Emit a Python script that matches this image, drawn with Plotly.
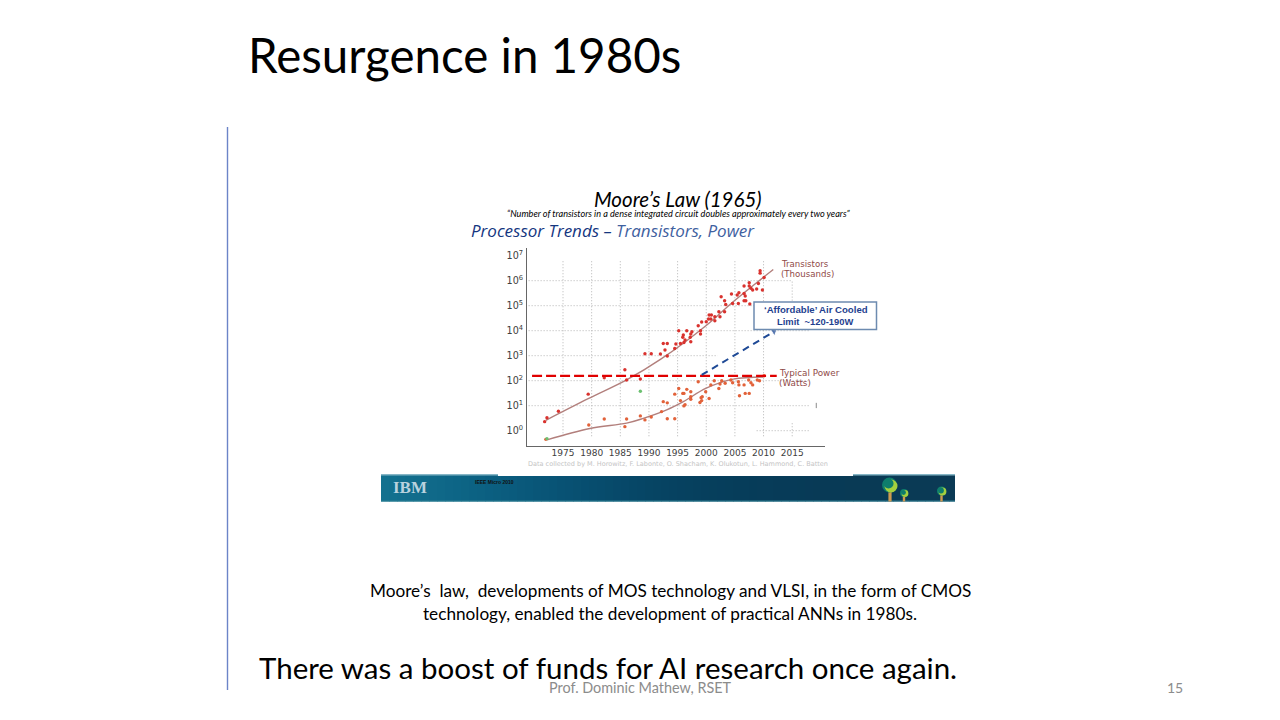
import plotly.graph_objects as go

# ---- data ----
tick_years = [1975, 1980, 1985, 1990, 1995, 2000, 2005, 2010, 2015]
tick_decades = [1, 10, 100, 1000, 10000, 100000, 1000000, 10000000]
tick_decade_labels = ["10<sup>0</sup>", "10<sup>1</sup>", "10<sup>2</sup>", "10<sup>3</sup>",
                      "10<sup>4</sup>", "10<sup>5</sup>", "10<sup>6</sup>", "10<sup>7</sup>"]

trans_years = [1971.8, 1972.2, 1974.2, 1979.4, 1982.2, 1985.8, 1986.1, 1988.5, 1989.3, 1990.4,
               1992.5, 1993.2, 1992.0, 1992.8, 1993.2, 1994.5, 1994.7, 1995.5, 1995.2, 1996.6,
               1997.5, 1996.0, 1996.3, 1996.1, 1997.2, 1997.3, 1997.3, 1995.9, 1998.6, 1999.2,
               2000.0, 1999.0, 1999.0, 2000.5, 2000.9, 2000.4, 2000.8, 2001.5, 2001.5, 2002.2,
               2002.4, 2003.2, 2002.6, 2003.2, 2003.4, 2004.6, 2004.4, 2005.4, 2005.7, 2005.6,
               2006.6, 2006.6, 2006.8, 2006.6, 2006.9, 2007.6, 2007.5, 2007.5, 2007.8, 2008.1,
               2008.8, 2009.1, 2009.8, 2009.4, 2009.4, 2010.1]
trans_values = [2.3, 3.3, 6, 29, 130, 275, 107, 117, 1200, 1200,
                3090, 3090, 1175, 1700, 977, 1950, 2950, 3090, 10000, 10000,
                9120, 6760, 4270, 3390, 5500, 3630, 7410, 5500, 15850, 22400,
                22900, 7410, 10000, 42700, 42700, 29500, 29500, 36300, 25100, 57500,
                36300, 57500, 229000, 158000, 112000, 123000, 295000, 269000, 331000, 123000,
                617000, 309000, 245000, 158000, 158000, 117000, 832000, 617000, 501000, 427000,
                468000, 776000, 427000, 2510000, 2000000, 1350000]

power_years = [1972.0, 1979.5, 1982.2, 1985.8, 1986.1, 1988.5, 1989.3, 1990.4, 1992.5, 1993.2,
               1992.2, 1993.2, 1994.5, 1994.5, 1995.2, 1995.5, 1995.9, 1996.1, 1996.1, 1996.3,
               1996.6, 1997.3, 1997.3, 1997.3, 1999.1, 1999.3, 1998.9, 1999.2, 2000.5, 1999.9,
               1998.6, 2000.8, 2001.4, 2002.2, 2002.4, 2002.7, 2003.3, 2004.3, 2004.6, 2005.6,
               2005.7, 2005.8, 2006.6, 2006.8, 2007.5, 2007.4, 2007.8, 2008.1, 2008.9, 2009.3,
               2010.1]
power_values = [0.45, 1.7, 2.95, 1.45, 2.95, 3.9, 2.7, 3.55, 14.5, 13,
                5.8, 3.0, 3.0, 29, 49, 16, 31, 31, 9.8, 11,
                45, 36, 23, 18, 21, 23, 13.5, 16, 19.5, 36,
                91, 68, 100, 49, 74, 100, 79, 107, 83, 91,
                68, 25, 68, 31, 31, 107, 83, 68, 107, 100,
                158]

green_years = [1972.2, 1988.5]
green_values = [0.48, 38]

trans_trend_years = [1972.0, 1979.4, 1986.1, 1992.0, 2000.1, 2004.7, 2011.7]
trans_trend_values = [2.6, 19, 107, 708, 17000, 145000, 2820000]
power_trend_years = [1972.2, 1979.7, 1986.1, 1989.0, 1993.1, 1996.0, 2000.0, 2004.7, 2010.0]
power_trend_values = [0.43, 1.23, 2.0, 3.1, 6.8, 14.5, 50, 115, 141]

limit_years = [1969.6, 2012.3]
limit_values = [155, 155]
affordable_years = [1999.2, 2011.8]
affordable_values = [170, 9100]

# grid segments as (decade, first year, last year) and (year, low value, high value)
h_grid = [(10, 1969, 2018), (100, 1969, 2018), (1000, 1969, 2002), (10000, 1969, 2018),
          (100000, 1969, 2018), (1000000, 1969, 2015), (1, 2008.8, 2018)]
v_grid = [(y, 0.6, 7000000) for y in tick_years[:-1]] + [(2015, 160000, 1000000), (2015, 0.6, 2)]
smudge_years = [2019.2, 2019.2]
smudge_values = [8, 13]

banner_keys = ["#13718f", "#106a8a", "#0c6283", "#0a5a7c", "#085274", "#074b6c", "#064564",
               "#06405e", "#063d5a", "#073b58", "#083a56", "#093a55", "#0a3a55", "#0b3a55"]

PX_W, PX_H = 1280, 720
AX_L, AX_R, AX_T, AX_B = 527, 825, 248, 446
LABEL_FONT = "DejaVu Sans"
SLIDE_FONT = "Lato"


def xp(px):
    return px / PX_W


def yp(py):
    return 1 - py / PX_H


def rect(x0, y0, x1, y1, fill, line=None, width=0, layer="below"):
    return dict(type="rect", xref="paper", yref="paper", x0=xp(x0), x1=xp(x1), y0=yp(y0), y1=yp(y1),
                fillcolor=fill, line=dict(color=line or fill, width=width), layer=layer)


def circle(cx, cy, r, fill):
    return dict(type="circle", xref="paper", yref="paper", x0=xp(cx - r), x1=xp(cx + r),
                y0=yp(cy + r), y1=yp(cy - r), fillcolor=fill, line=dict(width=0), layer="above")


def text(px, py, s, size, color="#000000", font=SLIDE_FONT, anchor="left"):
    return dict(x=xp(px), y=yp(py), xref="paper", yref="paper", text=s, showarrow=False,
                xanchor=anchor, yanchor="middle", align=anchor,
                font=dict(family=font, size=size, color=color))


def blend(c0, c1, t):
    a = [int(c0[i:i + 2], 16) for i in (1, 3, 5)]
    b = [int(c1[i:i + 2], 16) for i in (1, 3, 5)]
    return "#%02x%02x%02x" % tuple(round(p + (q - p) * t) for p, q in zip(a, b))


fig = go.Figure()

gx, gy = [], []
for d, y0, y1 in h_grid:
    gx += [y0, y1, None]
    gy += [d, d, None]
for y, v0, v1 in v_grid:
    gx += [y, y, None]
    gy += [v0, v1, None]
fig.add_trace(go.Scatter(x=gx, y=gy, mode="lines", hoverinfo="skip",
                         line=dict(color="#b4b4b4", width=1, dash="1px,2px")))
fig.add_trace(go.Scatter(x=smudge_years, y=smudge_values, mode="lines", hoverinfo="skip",
                         line=dict(color="#8a8a8a", width=1)))

fig.add_trace(go.Scatter(x=trans_trend_years, y=trans_trend_values, mode="lines",
                         line=dict(color="#b27f7c", width=1.4, shape="spline")))
fig.add_trace(go.Scatter(x=power_trend_years, y=power_trend_values, mode="lines",
                         line=dict(color="#b27f7c", width=1.4, shape="spline")))
fig.add_trace(go.Scatter(x=trans_years, y=trans_values, mode="markers",
                         marker=dict(color="#d9322e", size=3.4)))
fig.add_trace(go.Scatter(x=power_years, y=power_values, mode="markers",
                         marker=dict(color="#e2623a", size=3.4)))
fig.add_trace(go.Scatter(x=green_years, y=green_values, mode="markers",
                         marker=dict(color="#6cc070", size=3.4)))
fig.add_trace(go.Scatter(x=limit_years, y=limit_values, mode="lines",
                         line=dict(color="#e00000", width=2.2, dash="10px,4px")))
fig.add_trace(go.Scatter(x=affordable_years, y=affordable_values, mode="lines+markers",
                         line=dict(color="#1f4a96", width=2, dash="7px,5px"),
                         marker=dict(symbol="triangle-up", size=[0, 7], color="#1f4a96",
                                     angleref="previous")))

shapes = [
    dict(type="line", xref="paper", yref="paper", x0=xp(227.5), x1=xp(227.5), y0=yp(127), y1=yp(690),
         line=dict(color="#6c84c8", width=1.4)),
]
# banner strips
STRIP = 8
x = 381
while x < 955:
    pos = (x - 381) / (955 - 381) * (len(banner_keys) - 1)
    k = min(int(pos), len(banner_keys) - 2)
    shapes.append(rect(x, 474, min(x + STRIP + 0.5, 955), 501.5, blend(banner_keys[k], banner_keys[k + 1], pos - k)))
    x += STRIP
shapes.append(rect(381, 474, 955, 475.4, "#86b6c6"))
shapes.append(rect(381, 500.5, 955, 501.5, "#2c7f92"))
shapes.append(rect(498, 472, 853, 476, "#ffffff", layer="above"))
# trees
for cx, y0, wid in [(890, 491, 1.6), (904, 496, 1.2), (941.5, 495, 1.2)]:
    shapes.append(rect(cx - wid, y0, cx + wid, 501.5, "#d09a50", layer="above"))
shapes += [circle(889.5, 485, 7.5, "#0e7d6c"), circle(891, 486, 6.5, "#a4cf3e"), circle(888.5, 483.5, 5, "#0e7d6c"),
           circle(904, 493, 4, "#0e7d6c"), circle(905, 493.5, 3.4, "#a4cf3e"), circle(903.5, 492.5, 2.4, "#0e7d6c"),
           circle(941.5, 491, 4.6, "#0e7d6c"), circle(942.5, 491.5, 3.9, "#a4cf3e"), circle(941, 490.5, 2.9, "#0e7d6c")]
# callout
shapes.append(rect(754, 302, 876.5, 329.5, "#ffffff", line="#6d8bb0", width=1.5, layer="above"))

annotations = [
    text(246, 55, "Resurgence in 1980s", 47.5),
    text(678, 199, "<i>Moore’s Law (1965)</i>", 20.5, anchor="center"),
    text(679, 213, "<i>“Number of transistors in a dense integrated circuit doubles approximately every two years”</i>",
         9.15, anchor="center"),
    text(469, 231, "<i><span style='color:#14367f'>Processor Trends –</span> "
                   "<span style='color:#3f619f'>Transistors, Power</span></i>", 17, font="Open Sans"),
    text(779, 264, "Transistors", 8.6, "#8f4a48", LABEL_FONT),
    text(779, 273.5, "(Thousands)", 8.6, "#8f4a48", LABEL_FONT),
    text(777, 373, "Typical Power", 8.8, "#8f4a48", LABEL_FONT),
    text(777, 383, "(Watts)", 8.8, "#8f4a48", LABEL_FONT),
    text(816, 309.5, "<b>‘Affordable’ Air Cooled</b>", 9.6, "#1f3f8f", "Liberation Sans", "center"),
    text(815, 321.5, "<b>Limit  ~120-190W</b>", 9.4, "#1f3f8f", "Liberation Sans", "center"),
    text(526, 464, "Data collected by M. Horowitz, F. Labonte, O. Shacham, K. Olukotun, L. Hammond, C. Batten",
         6.5, "#c4c4c4", LABEL_FONT),
    text(391, 487, "<b>IBM</b>", 17, "#b9d2de", "Liberation Serif"),
    text(473, 482, "<b>IEEE Micro 2010</b>", 5, "#111111", "Liberation Sans"),
    text(670, 590, "Moore’s  law,  developments of MOS technology and VLSI, in the form of CMOS", 17.2, anchor="center"),
    text(670, 613, "technology, enabled the development of practical ANNs in 1980s.", 17.2, anchor="center"),
    text(257, 667, "There was a boost of funds for AI research once again.", 29.5),
    text(640, 687, "Prof. Dominic Mathew, RSET", 14.4, "#8c8c8c", anchor="center"),
    text(1175, 687, "15", 14, "#8c8c8c", anchor="center"),
]

x_min = 1975 + (AX_L - 563) / 5.73
x_max = 1975 + (AX_R - 563) / 5.73
y_min = (430.7 - AX_B) / 25
y_max = (430.7 - AX_T) / 25

fig.update_layout(
    width=PX_W, height=PX_H, autosize=False, showlegend=False,
    margin=dict(l=0, r=0, t=0, b=0), paper_bgcolor="#ffffff", plot_bgcolor="#ffffff",
    shapes=shapes, annotations=annotations,
    xaxis=dict(domain=[xp(AX_L), xp(AX_R)], range=[x_min, x_max], tickvals=tick_years,
               tickfont=dict(family=LABEL_FONT, size=9, color="#404040"), showgrid=False, zeroline=False,
               showline=True, linecolor="#666666", linewidth=1, ticks="", tickformat="d", ticklabelstandoff=-2),
    yaxis=dict(domain=[yp(AX_B), yp(AX_T)], type="log", range=[y_min, y_max], tickvals=tick_decades,
               ticktext=tick_decade_labels, tickfont=dict(family=LABEL_FONT, size=9.6, color="#404040"),
               showgrid=False, zeroline=False, showline=True, linecolor="#666666", linewidth=1, ticks="",
               ticklabelstandoff=1),
)

fig.write_html("out.html", config={"displayModeBar": False}, post_script="document.body.style.margin='0';")
